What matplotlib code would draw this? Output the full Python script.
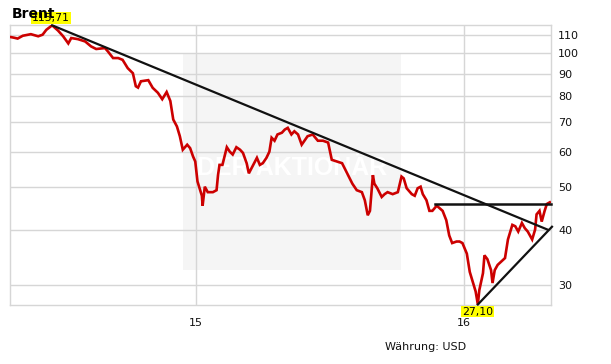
import matplotlib
matplotlib.use("Agg")
import matplotlib.pyplot as plt
from matplotlib.patches import Rectangle
import pandas as pd

dates = ["2014-04-23","2014-04-28","2014-05-03","2014-05-10","2014-05-21","2014-05-31","2014-06-06",
         "2014-06-11","2014-06-19","2014-06-27","2014-07-04","2014-07-11","2014-07-15","2014-07-24",
         "2014-08-03","2014-08-11","2014-08-18","2014-08-30","2014-09-03","2014-09-10","2014-09-17",
         "2014-09-23","2014-09-30","2014-10-07","2014-10-11","2014-10-14","2014-10-18","2014-10-28",
         "2014-11-03","2014-11-10","2014-11-16","2014-11-22","2014-11-27","2014-12-01","2014-12-06",
         "2014-12-10","2014-12-14","2014-12-20","2014-12-24","2014-12-28","2014-12-31",
         "2015-01-03","2015-01-09","2015-01-10","2015-01-13","2015-01-17","2015-01-24","2015-01-29",
         "2015-01-31","2015-02-02","2015-02-06","2015-02-12","2015-02-16","2015-02-20","2015-02-25",
         "2015-03-02","2015-03-06","2015-03-11","2015-03-14","2015-03-19","2015-03-25","2015-03-29",
         "2015-04-02","2015-04-07","2015-04-11","2015-04-14","2015-04-18","2015-04-22","2015-04-28",
         "2015-05-02","2015-05-06","2015-05-11","2015-05-15","2015-05-20","2015-05-25",
         "2015-06-02","2015-06-09","2015-06-16","2015-06-23","2015-06-30",
         "2015-07-05","2015-07-12","2015-07-19","2015-07-26","2015-08-02","2015-08-08","2015-08-15",
         "2015-08-19","2015-08-23","2015-08-26","2015-08-30","2015-09-01","2015-09-05","2015-09-11",
         "2015-09-15","2015-09-19","2015-09-26","2015-10-03","2015-10-08","2015-10-11","2015-10-15",
         "2015-10-22","2015-10-26","2015-10-30","2015-11-03","2015-11-06","2015-11-11","2015-11-15",
         "2015-11-19","2015-11-25",
         "2015-12-03","2015-12-08","2015-12-12","2015-12-16","2015-12-22","2015-12-26","2015-12-30",
         "2016-01-05","2016-01-09","2016-01-13","2016-01-17","2016-01-20","2016-01-22","2016-01-27",
         "2016-01-29","2016-02-02","2016-02-07","2016-02-09","2016-02-12","2016-02-16","2016-02-21",
         "2016-02-26","2016-03-01","2016-03-07","2016-03-11","2016-03-15","2016-03-20","2016-03-24",
         "2016-03-28","2016-04-03","2016-04-07","2016-04-09","2016-04-13","2016-04-16","2016-04-20",
         "2016-04-23","2016-04-27"]
prices = [108.9,108.5,108.0,109.6,110.5,109.3,110.2,
          113.0,115.71,112.6,109.3,105.3,108.3,107.7,
          106.4,103.7,102.3,102.8,101.0,97.6,97.6,
          96.7,92.6,90.2,84.3,83.7,86.5,87.0,
          83.6,81.5,78.8,81.8,78.1,70.9,68.4,
          65.0,60.6,62.2,61.1,58.5,57.0,
          51.4,47.7,45.3,50.0,48.6,48.6,49.1,
          53.1,56.0,56.0,61.4,60.0,59.1,61.4,
          60.6,59.6,56.5,53.6,55.6,58.1,56.0,
          56.5,58.1,60.0,64.5,63.5,65.6,66.2,
          67.3,67.9,65.6,66.7,65.6,62.2,
          65.0,65.6,63.5,63.5,62.9,
          57.5,57.0,56.5,53.6,50.8,49.1,48.6,
          46.6,43.1,44.1,53.1,50.8,49.6,47.4,
          48.1,48.6,48.1,48.6,52.7,52.2,49.6,
          48.1,47.7,49.6,50.0,48.1,46.6,44.1,
          44.1,45.3,
          44.1,42.0,38.8,37.3,37.6,37.6,37.3,
          35.3,32.1,30.5,29.0,27.10,29.2,31.9,
          35.0,34.3,32.4,30.3,32.4,33.3,33.9,
          34.5,38.0,41.0,40.7,39.6,41.4,40.3,
          39.6,38.0,40.0,43.3,44.1,41.7,44.1,
          45.7,46.1]

resist_dates = ["2014-06-19", "2016-04-24"]
resist_vals = [115.71, 40.0]
horiz_dates = ["2015-11-23", "2016-04-28"]
horiz_vals = [45.8, 45.8]
support_dates = ["2016-01-20", "2016-04-30"]
support_vals = [27.10, 40.6]

yticks = [30, 40, 50, 60, 70, 80, 90, 100, 110]
xtick_dates = ["2015-01-01", "2016-01-01"]
xtick_labels = ["15", "16"]

max_date, max_val, max_label = "2014-06-19", 115.71, "115,71"
min_date, min_val, min_label = "2016-01-20", 27.10, "27,10"

d = pd.to_datetime(dates)

fig = plt.figure(figsize=(6.11, 3.64), dpi=100)
ax = fig.add_axes([10/611, 1-305/364, 541/611, 280/364])
ax.set_yscale("log")
ax.set_ylim(27.03, 115.9)
ax.set_xlim(pd.Timestamp("2014-04-22 14:00"), pd.Timestamp("2016-04-28 16:00"))

gridc = "#d6d6d6"
ax.set_axisbelow(True)
ax.grid(True, which="major", color=gridc, lw=1.0)
for s in ax.spines.values():
    s.set_color(gridc)
    s.set_linewidth(1.0)

ax.yaxis.tick_right()
ax.yaxis.set_minor_locator(matplotlib.ticker.NullLocator())
ax.set_yticks(yticks)
ax.set_yticklabels([str(v) for v in yticks])
ax.yaxis.set_minor_locator(matplotlib.ticker.NullLocator())
ax.set_xticks(pd.to_datetime(xtick_dates))
ax.set_xticklabels(xtick_labels)
ax.tick_params(axis="y", which="both", length=0, pad=5, labelsize=8, labelcolor="#111111")
ax.tick_params(axis="x", length=0, pad=9.5, labelsize=8, labelcolor="#111111")

# watermark box
ax.add_patch(Rectangle((173/541, 35/280), 218/541, 216/280, transform=ax.transAxes,
                       facecolor="#f5f5f5", edgecolor="none", zorder=0.2))
ax.text(0.521, 0.49, "DER AKTIONÄR", transform=ax.transAxes, ha="center", va="center",
        color="white", fontsize=18, fontweight="bold", family="Liberation Sans", zorder=0.3)

ax.plot(d, prices, color="#cc0000", lw=1.9, zorder=3, solid_joinstyle="miter")

ax.plot(pd.to_datetime(resist_dates), resist_vals, color="#111111", lw=1.6, zorder=4, clip_on=False)
ax.plot(pd.to_datetime(horiz_dates), horiz_vals, color="#111111", lw=1.8, zorder=4, clip_on=False)
ax.plot(pd.to_datetime(support_dates), support_vals, color="#111111", lw=1.6, zorder=4, clip_on=False)

fig.text(12/611, 1-18/364, "Brent", fontsize=10, fontweight="bold", ha="left", va="baseline")

ax.annotate(max_label, (pd.Timestamp(max_date), max_val), xytext=(-1, 2.5), textcoords="offset pixels",
            ha="center", va="bottom", fontsize=7.8, annotation_clip=False, zorder=6,
            bbox=dict(boxstyle="square,pad=0.08", fc="#ffff00", ec="none"))
ax.annotate(min_label, (pd.Timestamp(min_date), min_val), xytext=(0, -2), textcoords="offset pixels",
            ha="center", va="top", fontsize=7.8, annotation_clip=False, zorder=6,
            bbox=dict(boxstyle="square,pad=0.08", fc="#ffff00", ec="none"))

fig.text(385/611, 1-347/364, "Währung: USD", fontsize=8, ha="left", va="center", color="#111111")

fig.savefig("out.png", dpi=100)
